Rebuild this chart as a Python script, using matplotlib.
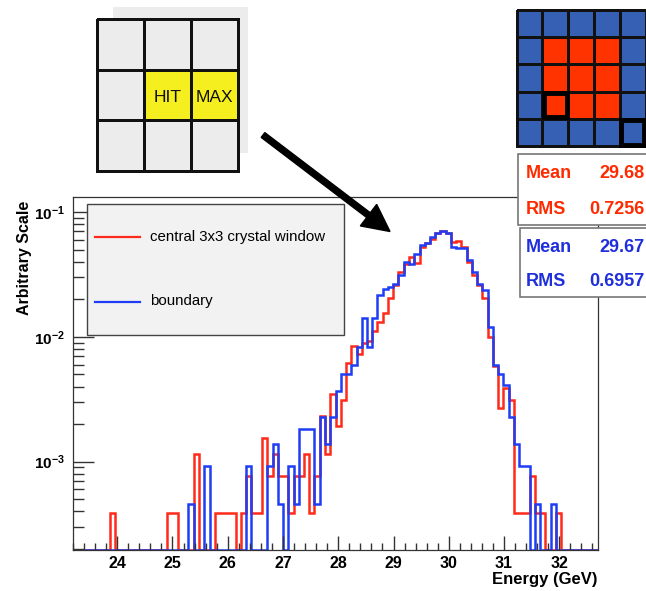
import numpy as np
import matplotlib
matplotlib.use("Agg")
import matplotlib.pyplot as plt
from matplotlib.patches import Rectangle, FancyArrow
from matplotlib.lines import Line2D
from matplotlib.colors import ListedColormap
from matplotlib.transforms import IdentityTransform
from matplotlib.ticker import MultipleLocator, FixedLocator, LogLocator, NullFormatter

plt.rcParams['font.family'] = ['Liberation Sans', 'DejaVu Sans']
plt.rcParams['mathtext.fontset'] = 'custom'
plt.rcParams['mathtext.rm'] = 'Liberation Sans'
plt.rcParams['mathtext.bf'] = 'Liberation Sans:bold'

W, H = 646, 591

# energy histogram, 100 bins; entries per bin, each series scaled to unit area
e_lo, e_hi, n_bins = 23.2, 32.7, 100
central_counts = [0, 0, 0, 0, 0, 0, 0, 1, 0, 0,
                  0, 0, 0, 0, 0, 0, 0, 0, 1, 1,
                  0, 0, 0, 3, 0, 0, 0, 1, 1, 1,
                  1, 0, 1, 2, 1, 1, 4, 2, 3, 2,
                  2, 1, 2, 2, 3, 1, 2, 6, 3, 9,
                  5, 8, 16, 22, 19, 23, 24, 29, 34, 40,
                  53, 67, 86, 100, 113, 101, 136, 145, 156, 174,
                  182, 174, 149, 152, 136, 103, 81, 67, 53, 26,
                  15, 7, 10, 8, 1, 1, 1, 2, 1, 1,
                  0, 0, 1, 0, 0, 0, 0, 0, 0, 0]
boundary_counts = [0, 0, 0, 0, 0, 0, 0, 0, 0, 0,
                   0, 0, 0, 0, 0, 0, 0, 0, 0, 0,
                   0, 0, 1, 0, 0, 2, 0, 0, 0, 0,
                   0, 0, 0, 2, 0, 0, 0, 2, 3, 1,
                   0, 2, 1, 4, 4, 4, 1, 5, 3, 5,
                   8, 11, 11, 13, 18, 31, 18, 31, 47, 53,
                   55, 58, 68, 87, 84, 101, 118, 123, 138, 147,
                   153, 147, 115, 111, 111, 90, 72, 58, 52, 26,
                   13, 11, 9, 5, 3, 2, 2, 0, 1, 0,
                   0, 1, 0, 0, 0, 0, 0, 0, 0, 0]
central_unit = 3.87e-4
boundary_unit = 4.6e-4
y_lo, y_hi = 1.96e-4, 0.132

legend_labels = ["central 3x3 crystal window", "boundary"]
central_stats = [("Mean", "29.68"), ("RMS", "0.7256")]
boundary_stats = [("Mean", "29.67"), ("RMS", "0.6957")]

# crystal sketches
hit_grid = [[0, 0, 0],
            [0, 1, 1],
            [0, 0, 0]]
hit_labels = {(1, 1): "HIT", (1, 2): "MAX"}
window_grid = [[0, 0, 0, 0, 0],
               [0, 1, 1, 1, 0],
               [0, 1, 1, 1, 0],
               [0, 1, 1, 1, 0],
               [0, 0, 0, 0, 0]]
window_marked = [(3, 1), (4, 4)]

RED = '#ff2a1a'
BLUE = '#1f3df5'
RED_TXT = '#ff2a00'
BLUE_TXT = '#1f2fdc'


def fig_rect(x0, y0, x1, y1):
    return [x0 / W, 1 - y1 / H, (x1 - x0) / W, (y1 - y0) / H]


fig = plt.figure(figsize=(W / 100, H / 100), dpi=100)

# main histogram
ax = fig.add_axes(fig_rect(73, 197, 598, 550))
edges = np.linspace(e_lo, e_hi, n_bins + 1)
for counts, unit, color in [(central_counts, central_unit, RED),
                            (boundary_counts, boundary_unit, BLUE)]:
    vals = np.array(counts, float) * unit
    vals = np.where(vals > 0, vals, y_lo)
    ax.stairs(vals, edges, baseline=y_lo, color=color, lw=1.8)

ax.set_xlim(e_lo, e_hi)
ax.set_yscale('log')
ax.set_ylim(y_lo, y_hi)
ax.xaxis.set_major_locator(MultipleLocator(1))
ax.xaxis.set_minor_locator(MultipleLocator(0.2))
ax.yaxis.set_major_locator(FixedLocator([1e-3, 1e-2, 1e-1]))
ax.yaxis.set_minor_locator(LogLocator(subs=np.arange(2, 10)))
ax.yaxis.set_minor_formatter(NullFormatter())
ax.set_yticklabels([r'$\mathbf{10^{-3}}$', r'$\mathbf{10^{-2}}$', r'$\mathbf{10^{-1}}$'])
ax.tick_params(which='both', direction='in', top=False, right=False, color='#333')
ax.tick_params(axis='x', which='major', length=10, width=1, pad=4, labelsize=11.5)
ax.tick_params(axis='x', which='minor', length=5, width=1)
ax.tick_params(axis='y', which='major', length=15, width=1, pad=6, labelsize=11)
ax.tick_params(axis='y', which='minor', length=8, width=1)
for lab in ax.get_xticklabels():
    lab.set_fontweight('bold')
for s in ax.spines.values():
    s.set_color('#333')
    s.set_linewidth(0.9)

ax.set_ylabel('Arbitrary Scale', fontsize=11.5, fontweight='bold', loc='top')
ax.yaxis.set_label_coords(-0.079, 0.99)
ax.set_xlabel('Energy (GeV)', fontsize=12, fontweight='bold', loc='right')
ax.xaxis.set_label_coords(1.0, -0.062)

# legend box
fig.add_artist(Rectangle((87 / W, 1 - 335 / H), (344 - 87) / W, (335 - 204) / H,
                         transform=fig.transFigure, facecolor='#f2f2f2',
                         edgecolor='#444', lw=1, zorder=2))
for label, color, y in zip(legend_labels, [RED, BLUE], [236.5, 301.5]):
    fig.add_artist(Line2D([95 / W, 140 / W], [1 - y / H, 1 - y / H],
                          transform=fig.transFigure, color=color, lw=1.6, zorder=3))
    fig.text(150 / W, 1 - y / H, label, fontsize=10.8, va='center', ha='left', zorder=3)

# stat boxes
for (x0, y0, y1), stats, color, rows in [((518, 154, 225), central_stats, RED_TXT, [174, 209]),
                                         ((520, 228, 297), boundary_stats, BLUE_TXT, [247, 282])]:
    fig.add_artist(Rectangle((x0 / W, 1 - y1 / H), (660 - x0) / W, (y1 - y0) / H,
                             transform=fig.transFigure, facecolor='white',
                             edgecolor='#777', lw=1.2, zorder=2))
    for (name, val), y in zip(stats, rows):
        fig.text(526 / W, 1 - y / H, name, color=color, fontsize=13,
                 fontweight='bold', va='center', ha='left', zorder=3)
        fig.text(644 / W, 1 - y / H, val, color=color, fontsize=13,
                 fontweight='bold', va='center', ha='right', zorder=3)

# 3x3 sketch with HIT / MAX
fig.add_artist(Rectangle((113 / W, 1 - 153 / H), (248 - 113) / W, (153 - 7) / H,
                         transform=fig.transFigure, facecolor='#ececec',
                         edgecolor='none', zorder=-1))
ax1 = fig.add_axes(fig_rect(96.7, 19, 237.7, 170.7))
m1 = ax1.pcolormesh(np.array(hit_grid), cmap=ListedColormap(['#ececec', '#f5ef1f']),
                    vmin=0, vmax=1, edgecolors='#111', linewidth=2)
m1.set_clip_on(False)
for (r, c), txt in hit_labels.items():
    ax1.text(c + 0.5, r + 0.55, txt, ha='center', va='center', fontsize=12.5, color='#111')
ax1.set_xlim(0, 3)
ax1.set_ylim(3, 0)
ax1.axis('off')

# 5x5 crystal window sketch
ax2 = fig.add_axes(fig_rect(516.7, 10, 645.5, 146))
m2 = ax2.pcolormesh(np.array(window_grid), cmap=ListedColormap(['#3560b3', '#ff3300']),
                    vmin=0, vmax=1, edgecolors='#111', linewidth=2)
m2.set_clip_on(False)
for r, c in window_marked:
    ax2.add_patch(Rectangle((c + 0.05, r + 0.05), 0.9, 0.9, fill=False,
                            edgecolor='black', lw=3.5, clip_on=False))
ax2.set_xlim(0, 5)
ax2.set_ylim(5, 0)
ax2.axis('off')

# arrow from the sketch to the histogram
fig.add_artist(FancyArrow(263, H - 135, 390 - 263, -(231.5 - 135), width=6,
                          head_width=27, head_length=27, length_includes_head=True,
                          color='black', transform=IdentityTransform(), zorder=4))

fig.savefig('out.png', dpi=100)
